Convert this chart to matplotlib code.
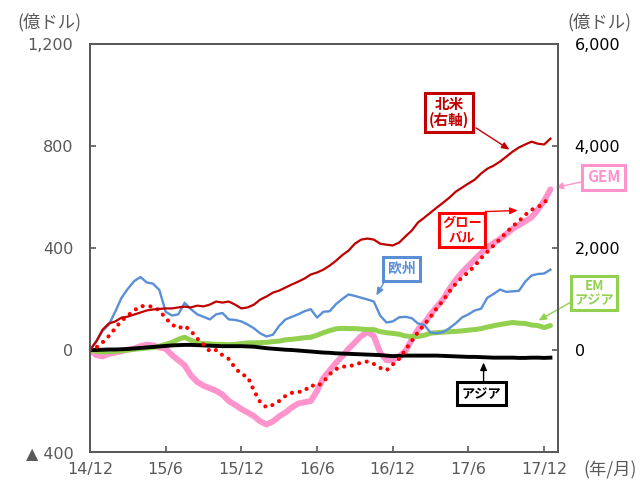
import numpy as np
import matplotlib
matplotlib.use("Agg")
import matplotlib.pyplot as plt

plt.rcParams['font.family'] = ['DejaVu Sans', 'Noto Sans CJK JP']
JP = ['Noto Sans CJK JP', 'DejaVu Sans']

## semi-monthly readings from 2014/12 to 2017/12 (left axis: 億ドル)
north_america = [0, 165, 400, 520, 560, 635, 655, 695, 735, 775, 795, 805, 815, 815, 835, 850,
                 835, 870, 855, 890, 950, 930, 950, 890, 815, 835, 890, 990, 1050, 1125, 1165,
                 1225, 1285, 1340, 1400, 1480, 1520, 1575, 1655, 1750, 1860, 1950, 2085, 2165,
                 2185, 2165, 2085, 2065, 2050, 2105, 2225, 2340, 2500, 2595, 2695, 2795, 2890,
                 2990, 3105, 3185, 3265, 3340, 3460, 3555, 3615, 3695, 3790, 3890, 3970, 4030,
                 4085, 4045, 4030, 4145]  # right axis
europe = [0, 35, 75, 100, 150, 205, 240, 270, 286, 265, 260, 235, 150, 135, 140, 185, 160, 140,
          130, 120, 140, 145, 120, 118, 112, 100, 85, 65, 53, 60, 95, 120, 130, 140, 152, 160,
          127, 150, 152, 180, 200, 218, 212, 205, 198, 190, 135, 108, 112, 128, 130, 125, 104,
          98, 68, 66, 70, 86, 105, 128, 140, 155, 162, 205, 220, 237, 228, 230, 232, 268, 292,
          298, 300, 315]
gem = [0, -20, -25, -15, -10, -5, 2, 5, 15, 21, 18, 10, 5, -20, -40, -60, -100, -125, -140,
       -150, -160, -175, -200, -215, -232, -245, -260, -280, -292, -280, -260, -245, -225, -210,
       -205, -200, -160, -110, -80, -50, -25, 5, 30, 55, 70, 55, -10, -40, -40, -25, -5, 40, 80,
       105, 140, 170, 200, 240, 275, 305, 330, 355, 380, 400, 420, 435, 455, 475, 490, 505, 520,
       550, 585, 630]
global_ = [0, 10, 30, 55, 85, 115, 135, 155, 172, 172, 170, 155, 125, 100, 85, 95, 75, 45, 22,
           -5, 0, -20, -35, -70, -95, -105, -160, -205, -225, -215, -200, -180, -168, -165, -160,
           -138, -143, -125, -95, -75, -65, -65, -57, -50, -45, -55, -70, -80, -57, -35, 0, 35,
           70, 100, 130, 165, 195, 230, 260, 285, 305, 330, 360, 385, 410, 435, 460, 485, 505,
           530, 550, 560, 578, 602]
em_asia = [0, -5, -8, -6, -5, -3, 0, 3, 5, 8, 10, 15, 22, 30, 42, 50, 38, 28, 25, 24, 22, 22,
           21, 22, 25, 28, 28, 29, 30, 33, 35, 40, 42, 45, 48, 50, 58, 68, 76, 83, 85, 84, 84, 82,
           80, 80, 72, 68, 65, 62, 55, 53, 53, 58, 66, 68, 70, 72, 73, 75, 78, 80, 84, 90, 95,
           100, 104, 108, 105, 104, 98, 96, 88, 96]
asia = [0, 0, 1, 2, 2, 3, 4, 6, 8, 10, 12, 14, 16, 18, 19, 20, 20, 19, 18, 17, 16, 15, 15, 15,
        15, 14, 13, 10, 7, 5, 3, 1, 0, -2, -4, -6, -8, -10, -11, -13, -14, -15, -16, -17, -18,
        -19, -20, -22, -24, -23, -22, -22, -22, -22, -22, -22, -23, -24, -25, -26, -27, -27, -28,
        -29, -30, -30, -30, -30, -31, -31, -30, -30, -31, -30]

xtick_labels = ['14/12', '15/6', '15/12', '16/6', '16/12', '17/6', '17/12']
months = np.arange(len(gem)) / 2

gray = '#595959'

fig = plt.figure(figsize=(6.4, 4.82), dpi=100)
ax = fig.add_axes([90 / 640, 30 / 482, 468 / 640, 408 / 482])
ax2 = ax.twinx()

ax.plot(months, gem, color='#FF93CB', lw=4.3, solid_capstyle='round', zorder=2)
ax.plot(months, em_asia, color='#92D050', lw=3.6, solid_capstyle='round', zorder=3)
ax.plot(months, asia, color='black', lw=2.8, zorder=4)
ax.plot(months, europe, color='#5A8FD6', lw=1.7, zorder=5)
ax.plot(months, global_, color='#FF0000', lw=3.0, linestyle=(0, (0.01, 1.85)),
        dash_capstyle='round', zorder=6)
ax2.plot(months, north_america, color='#C00000', lw=1.6)

ax.set_xlim(0, 37.1)
ax.set_ylim(-400, 1200)
ax2.set_ylim(-2000, 6000)
ax.set_xticks([0, 6, 12, 18, 24, 30, 36])
ax.set_xticklabels(xtick_labels)
ax.set_yticks([-400, 0, 400, 800, 1200])
ax.set_yticklabels(['▲ 400', '0', '400', '800', '1,200'])
ax2.set_yticks([0, 2000, 4000, 6000])
ax2.set_yticklabels(['0', '2,000', '4,000', '6,000'])

for a in (ax, ax2):
    for s in a.spines.values():
        s.set_color(gray)
        s.set_linewidth(1.3)
ax.tick_params(axis='y', direction='in', length=4, width=1.2, color=gray,
               labelcolor=gray, labelsize=11.5, pad=12)
ax.tick_params(axis='x', direction='in', length=4, width=1.2, color=gray,
               labelcolor=gray, labelsize=11.5, pad=7)
ax2.tick_params(axis='y', direction='in', length=4, width=1.2, color=gray,
                labelcolor='black', labelsize=11.5, pad=12)

fig.text(49 / 640, 1 - 22 / 482, '(億ドル)', family=JP, fontsize=12.5, color=gray,
         ha='center', va='center')
fig.text(599 / 640, 1 - 22 / 482, '(億ドル)', family=JP, fontsize=12.5, color=gray,
         ha='center', va='center')
fig.text(610 / 640, 1 - 470 / 482, '(年/月)', family=JP, fontsize=12.5, color=gray,
         ha='center', va='center')


## labels with boxes and arrows (positions in left-axis data units)
def label(text, xy_text, xy_from, xy_to, color, size=10, pad=0.25):
    ax.text(xy_text[0], xy_text[1], text, family=JP, fontsize=size, fontweight='bold',
            color=color, ha='center', va='center', linespacing=1.0, zorder=10,
            bbox=dict(boxstyle='square,pad=%s' % pad, fc='white', ec=color, lw=2.2),
            clip_on=False)
    ax.annotate('', xy=xy_to, xytext=xy_from, annotation_clip=False, zorder=10,
                arrowprops=dict(arrowstyle='-|>,head_length=0.45,head_width=0.2',
                                color=color, lw=1.0, shrinkA=0, shrinkB=0))


label('北米\n(右軸)', (28.45, 932), (30.6, 871), (33.25, 786), '#C00000', 10.5)
label('グロー\nバル', (29.5, 470), (31.35, 543), (33.9, 547), '#FF0000', 9.5)
label('欧州', (24.7, 318), (23.3, 265), (22.7, 214), '#5A8FD6', 10, 0.35)
label('GEM', (40.7, 678), (39.05, 660), (36.9, 637), '#FF93CB', 11, 0.3)
label('EM\nアジア', (39.96, 223), (38.2, 190), (35.56, 116), '#92D050', 9.5)
label('アジア', (31.03, -172), (31.2, -123), (31.2, -49), 'black', 9.5, 0.35)

plt.savefig('out.png', dpi=100)
